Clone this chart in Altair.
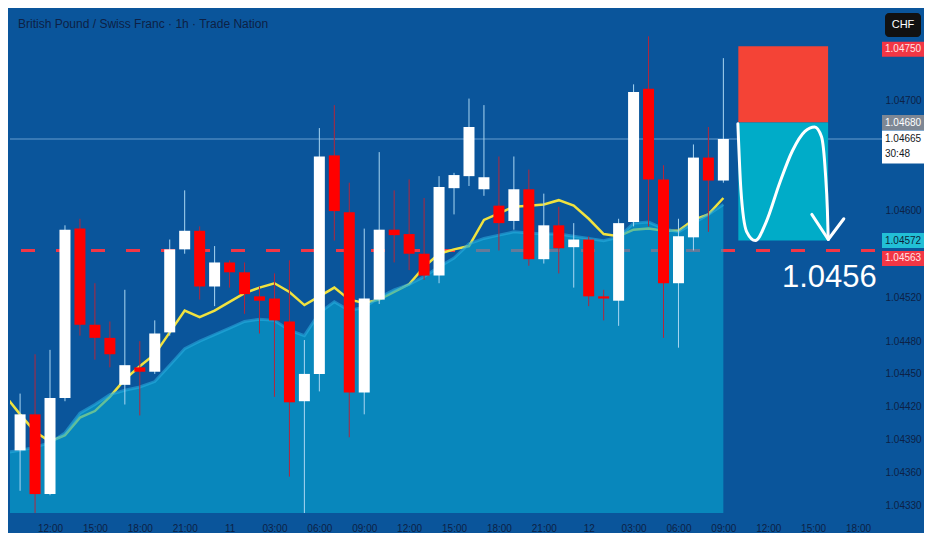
import altair as alt
import pandas as pd

W, H = 865, 505
BG = "#0a559b"
LBL = "#0d2145"
FONT = "Liberation Sans, Arial, sans-serif"

# ---------------- data ----------------
hours = list(range(-2, 46))  # hour index, 0 = 12:00 on day 10
opens = [1.04380, 1.04413, 1.04340, 1.04428, 1.04583, 1.04495, 1.04483, 1.04440,
         1.04456, 1.04452, 1.04488, 1.04564, 1.04581, 1.04530, 1.04552, 1.04543,
         1.04521, 1.04519, 1.04498, 1.04425, 1.04450, 1.04650, 1.04598, 1.04433,
         1.04518, 1.04582, 1.04578, 1.04560, 1.04540, 1.04620, 1.04631, 1.04619,
         1.04604, 1.04590, 1.04619, 1.04555, 1.04586, 1.04566, 1.04573, 1.04521,
         1.04517, 1.04589, 1.04711, 1.04628, 1.04533, 1.04575, 1.04648, 1.04627]
highs = [1.04432, 1.04468, 1.04472, 1.04586, 1.04592, 1.04533, 1.04498, 1.04527,
         1.04480, 1.04499, 1.04573, 1.04618, 1.04585, 1.04567, 1.04554, 1.04552,
         1.04530, 1.04542, 1.04554, 1.04481, 1.04675, 1.04696, 1.04625, 1.04583,
         1.04653, 1.04618, 1.04628, 1.04611, 1.04631, 1.04634, 1.04702, 1.04696,
         1.04649, 1.04649, 1.04637, 1.04615, 1.04603, 1.04588, 1.04576, 1.04527,
         1.04592, 1.04715, 1.04759, 1.04641, 1.04592, 1.04660, 1.04676, 1.04739]
lows = [1.04343, 1.04320, 1.04339, 1.04425, 1.04485, 1.04463, 1.04456, 1.04422,
        1.04412, 1.04450, 1.04485, 1.04560, 1.04518, 1.04512, 1.04529, 1.04505,
        1.04487, 1.04429, 1.04356, 1.04320, 1.04434, 1.04572, 1.04392, 1.04413,
        1.04514, 1.04552, 1.04545, 1.04536, 1.04533, 1.04596, 1.04622, 1.04613,
        1.04563, 1.04582, 1.04549, 1.04551, 1.04542, 1.04529, 1.04512, 1.04499,
        1.04494, 1.04585, 1.04585, 1.04483, 1.04474, 1.04563, 1.04580, 1.04625]
closes = [1.04413, 1.04340, 1.04428, 1.04582, 1.04495, 1.04483, 1.04468, 1.04458,
          1.04452, 1.04487, 1.04564, 1.04581, 1.04530, 1.04552, 1.04543, 1.04523,
          1.04517, 1.04499, 1.04424, 1.04450, 1.04649, 1.04599, 1.04433, 1.04519,
          1.04582, 1.04577, 1.04560, 1.04540, 1.04621, 1.04632, 1.04676, 1.04630,
          1.04588, 1.04619, 1.04555, 1.04586, 1.04565, 1.04573, 1.04521, 1.04519,
          1.04588, 1.04708, 1.04628, 1.04533, 1.04576, 1.04648, 1.04627, 1.04665]

ind_hours = list(range(-3, 46))
ema = [1.04430, 1.04413, 1.04397, 1.04388, 1.04394, 1.04410, 1.04416, 1.04429,
       1.04445, 1.04457, 1.04468, 1.04488, 1.04508, 1.04502, 1.04508, 1.04516,
       1.04524, 1.04529, 1.04533, 1.04525, 1.04513, 1.04521, 1.04529, 1.04518,
       1.04515, 1.04518, 1.04525, 1.04532, 1.04548, 1.04560, 1.04564, 1.04567,
       1.04591, 1.04597, 1.04603, 1.04604, 1.04605, 1.04609, 1.04604, 1.04592,
       1.04578, 1.04576, 1.04582, 1.04583, 1.04581, 1.04581, 1.04591, 1.04596,
       1.04611]
band = [1.04378, 1.04380, 1.04383, 1.04387, 1.04396, 1.04414, 1.04422, 1.04431,
        1.04435, 1.04438, 1.04443, 1.04458, 1.04473, 1.04480, 1.04486, 1.04492,
        1.04498, 1.04500, 1.04499, 1.04490, 1.04485, 1.04506, 1.04516, 1.04508,
        1.04511, 1.04520, 1.04527, 1.04532, 1.04539, 1.04548, 1.04556, 1.04569,
        1.04574, 1.04577, 1.04580, 1.04579, 1.04578, 1.04578, 1.04576, 1.04574,
        1.04572, 1.04575, 1.04588, 1.04589, 1.04583, 1.04580, 1.04588, 1.04596,
        1.04605]

x_ticks = list(range(0, 55, 3))
x_labels = ['12:00', '15:00', '18:00', '21:00', '11', '03:00', '06:00', '09:00',
            '12:00', '15:00', '18:00', '21:00', '12', '03:00', '06:00', '09:00',
            '12:00', '15:00', '18:00']
y_ticks = [1.047, 1.046, 1.0452, 1.0448, 1.0445, 1.0442, 1.0439, 1.0436, 1.0433]
x_domain = [-2.34, 54.8]
y_domain = [1.043227, 1.047849]

last_price = 1.04665
entry_price = 1.04680
stop_price = 1.04750
target_price = 1.04572
line_price = 1.04563
trade_start, trade_end = 46, 52

curve_t = [45.97, 46.17, 46.56, 47.14, 47.86, 48.77, 49.61, 50.45, 51.10, 51.56, 51.82, 51.95, 52.01]
curve_p = [1.04679, 1.04619, 1.04580, 1.04572, 1.04589, 1.04625, 1.04654, 1.04672,
           1.04676, 1.04667, 1.04634, 1.04601, 1.04573]
arrow_t = [50.91, 52.01, 53.05]
arrow_p = [1.04596, 1.04573, 1.04592]

title_text = "British Pound / Swiss Franc · 1h · Trade Nation"
big_label = "1.0456"
big_label_t, big_label_p = 52.08, 1.04530

# ---------------- frames ----------------
candles = pd.DataFrame({'t': hours, 'open': opens, 'high': highs, 'low': lows, 'close': closes})
ind = pd.DataFrame({'t': ind_hours, 'ema': ema, 'band': band})
curve = pd.DataFrame({'t': curve_t, 'price': curve_p, 'k': list(range(len(curve_t)))})
arrow = pd.DataFrame({'t': arrow_t, 'price': arrow_p, 'k': list(range(len(arrow_t)))})
boxes = pd.DataFrame({'t0': [trade_start, trade_start], 't1': [trade_end, trade_end],
                      'p0': [entry_price, target_price], 'p1': [stop_price, entry_price],
                      'kind': ['stop', 'target']})

xscale = alt.Scale(domain=x_domain, nice=False, zero=False)
yscale = alt.Scale(domain=y_domain, nice=False, zero=False)
label_expr = "[" + ",".join("'%s'" % s for s in x_labels) + "][round(datum.value/3)]"
x_axis = alt.Axis(values=x_ticks, labelExpr=label_expr, grid=False, ticks=False, domain=False,
                  labelColor=LBL, labelFont=FONT, labelFontSize=10, labelPadding=10,
                  labelOverlap=False, labelFlush=False, title=None)
y_axis = alt.Axis(orient='right', values=y_ticks, format='.5f', grid=False, ticks=False,
                  domain=False, labelColor=LBL, labelFont=FONT, labelFontSize=10,
                  labelPadding=10, labelAlign='left', labelOverlap=False, title=None)


def X(f):
    return alt.X(f + ':Q', scale=xscale, axis=x_axis)


def Y(f):
    return alt.Y(f + ':Q', scale=yscale, axis=y_axis)


def level(p):
    return alt.Chart(pd.DataFrame({'price': [p]}))


dash_line = level(line_price).mark_rule(color='#f23645', strokeWidth=3, strokeDash=[14, 21]).encode(
    y=Y('price'))
price_line = level(last_price).mark_rule(color='#86b6e2', strokeWidth=1, opacity=0.75).encode(
    y=Y('price'), x=alt.value(0), x2=alt.value(W + 7))

ema_line = alt.Chart(ind).mark_line(color='#f0e23f', strokeWidth=2.5, clip=True).encode(
    x=X('t'), y=Y('ema'))
area = alt.Chart(ind).mark_area(color='#07a8d2', opacity=0.6, clip=True).encode(
    x=X('t'), y=Y('band'), y2=alt.datum(y_domain[0]))
area_edge = alt.Chart(ind).mark_line(color='#2cb0e2', strokeWidth=3, opacity=0.55, clip=True).encode(
    x=X('t'), y=Y('band'))

up = "datum.close >= datum.open"
wicks = alt.Chart(candles).mark_rule(strokeWidth=1, clip=True).encode(
    x=X('t'), y=Y('low'), y2='high',
    color=alt.condition(up, alt.value('#a9d6f2'), alt.value('#b3263c')))
bodies = alt.Chart(candles).mark_bar(width=11, clip=True).encode(
    x=X('t'), y=Y('open'), y2='close',
    color=alt.condition(up, alt.value('#ffffff'), alt.value('#ff0000')))

trade = alt.Chart(boxes).mark_rect().encode(
    x=X('t0'), x2='t1', y=Y('p0'), y2='p1',
    color=alt.Color('kind:N', scale=alt.Scale(domain=['stop', 'target'], range=['#f44336', '#00acc8']),
                    legend=None))
curve_line = alt.Chart(curve).mark_line(color='white', strokeWidth=3, interpolate='monotone',
                                        strokeCap='round').encode(x=X('t'), y=Y('price'), order='k:Q')
arrow_line = alt.Chart(arrow).mark_line(color='white', strokeWidth=3, strokeCap='round',
                                        strokeJoin='round').encode(x=X('t'), y=Y('price'), order='k:Q')
big_text = alt.Chart(pd.DataFrame({'t': [big_label_t], 'price': [big_label_p], 'label': [big_label]})).mark_text(
    font=FONT, fontSize=31, color='white', align='center', baseline='alphabetic').encode(
    x=X('t'), y=Y('price'), text='label:N')

title = alt.Chart(pd.DataFrame({'label': [title_text]})).mark_text(
    align='left', baseline='middle', fontSize=12, font=FONT, color=LBL).encode(
    x=alt.value(8), y=alt.value(16), text='label:N')


def tag(p, bg, fg, dy=0, h=15, sub=None):
    base = level(p)
    r = base.mark_rect(height=h, color=bg, yOffset=dy).encode(
        y=Y('price'), x=alt.value(W + 7), x2=alt.value(W + 49))
    txt_dy = dy if sub is None else dy - 8
    t = base.mark_text(color=fg, font=FONT, fontSize=10, align='left', baseline='middle',
                       yOffset=txt_dy).encode(
        y=Y('price'), x=alt.value(W + 10), text=alt.Text('price:Q', format='.5f'))
    out = [r, t]
    if sub is not None:
        out.append(base.mark_text(color=fg, font=FONT, fontSize=10, align='left', baseline='middle',
                                  yOffset=dy + 7).encode(
            y=Y('price'), x=alt.value(W + 10), text=alt.value(sub)))
    return out


tags = []
tags += tag(stop_price, '#f23645', '#ffe4e4', dy=3)
tags += tag(entry_price, '#7d8794', '#ffffff', dy=0)
tags += tag(last_price, '#ffffff', '#131722', dy=8, h=33, sub='30:48')
tags += tag(target_price, '#22bfd6', '#0b1f3a', dy=0)
tags += tag(line_price, '#f23645', '#ffe4e4', dy=8)

chf_box = alt.Chart(pd.DataFrame({'label': ['CHF']})).mark_rect(color='#111111', cornerRadius=4).encode(
    x=alt.value(W + 10), x2=alt.value(W + 46), y=alt.value(5), y2=alt.value(29))
chf_text = alt.Chart(pd.DataFrame({'label': ['CHF']})).mark_text(
    color='white', font=FONT, fontSize=11, align='center', baseline='middle').encode(
    x=alt.value(W + 28), y=alt.value(17), text='label:N')

chart = alt.layer(
    dash_line, price_line, ema_line, area, area_edge, wicks, bodies,
    trade, curve_line, arrow_line, big_text, title, *tags, chf_box, chf_text
).properties(width=W, height=H, background=BG, padding=0).configure_view(strokeWidth=0)

chart.save("out.html", embed_options={"renderer": "svg", "actions": False})
